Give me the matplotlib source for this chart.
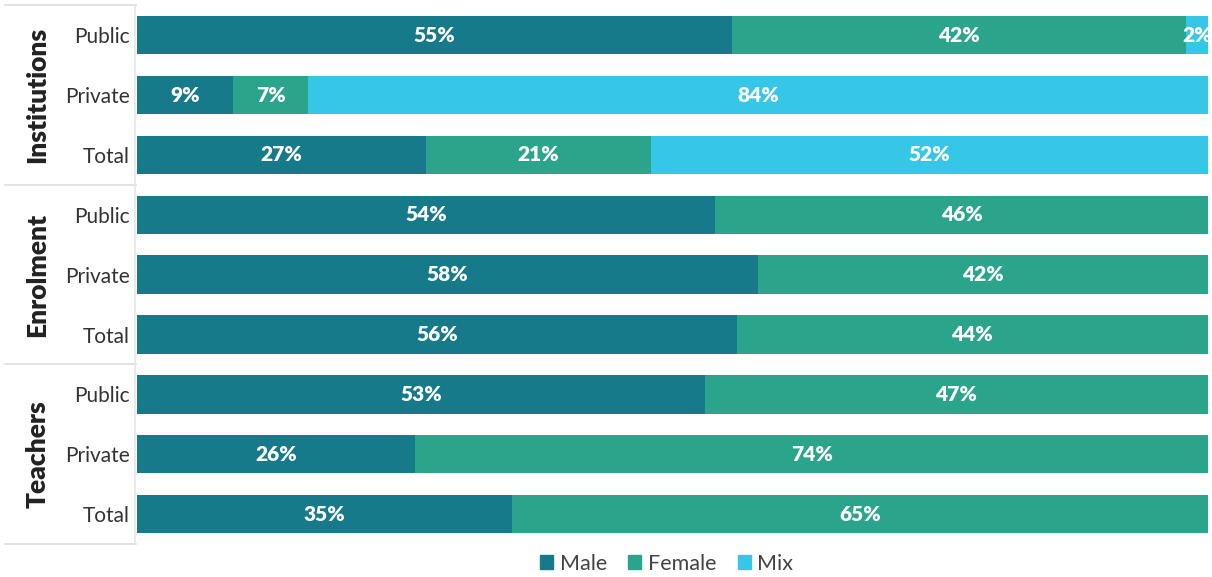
import numpy as np
import matplotlib.pyplot as plt
from matplotlib.patches import Patch
from matplotlib.lines import Line2D

plt.rcParams['font.family'] = ['Lato', 'DejaVu Sans']

groups = ['Institutions', 'Enrolment', 'Teachers']
rows = ['Public', 'Private', 'Total'] * 3
male = [55, 9, 27, 54, 58, 56, 53, 26, 35]
female = [42, 7, 21, 46, 42, 44, 47, 74, 65]
mix = [2, 84, 52, 0, 0, 0, 0, 0, 0]

series = ['Male', 'Female', 'Mix']
colors = ['#167a8b', '#2aa58b', '#37c7e6']

data = np.array([male, female, mix], dtype=float)
widths = data / data.sum(axis=0) * 100

fig = plt.figure(figsize=(12.12, 5.77), dpi=100)
ax = fig.add_axes([0.113, 0.057, 0.8837, 0.934])

y = np.arange(len(rows))
left = np.zeros(len(rows))
for k in range(3):
    ax.barh(y, widths[k], left=left, height=0.64, color=colors[k], linewidth=0)
    for i in range(len(rows)):
        if data[k, i] > 0:
            ax.text(left[i] + widths[k, i] / 2, y[i], f'{int(data[k, i])}%',
                    ha='center', va='center', color='white', fontsize=15,
                    fontweight='heavy')
    left += widths[k]

ax.set_xlim(0, 100)
ax.set_ylim(len(rows) - 0.5, -0.5)
ax.set_yticks(y)
ax.set_yticklabels(rows, fontsize=15, color='#333333')
ax.tick_params(axis='y', length=0, pad=5)
ax.set_xticks([])
for s in ax.spines.values():
    s.set_visible(False)

# group labels and separators
pos = ax.get_position()
for g, name in enumerate(groups):
    fig.text(0.031, pos.y0 + pos.height * (1 - (g * 3 + 1.5) / 9),
             name, rotation=90, ha='center', va='center', fontsize=19,
             fontweight='heavy', color='#222222')

for g in range(4):
    yy = pos.y0 + pos.height * (1 - g * 3 / 9)
    fig.add_artist(Line2D([0.004, 0.112], [yy, yy], color='#dddddd', lw=1.2))
fig.add_artist(Line2D([0.1115, 0.1115], [pos.y0, pos.y1], color='#e6e6e6', lw=1.2))

handles = [Patch(color=c, label=s) for c, s in zip(colors, series)]
fig.legend(handles=handles, loc='lower center', bbox_to_anchor=(0.55, -0.028), ncol=3,
           frameon=False, fontsize=15.5, handlelength=0.6, handleheight=0.6,
           handletextpad=0.3, columnspacing=1.0, labelcolor='#444444')

fig.savefig('out.png', dpi=100, facecolor='white')
